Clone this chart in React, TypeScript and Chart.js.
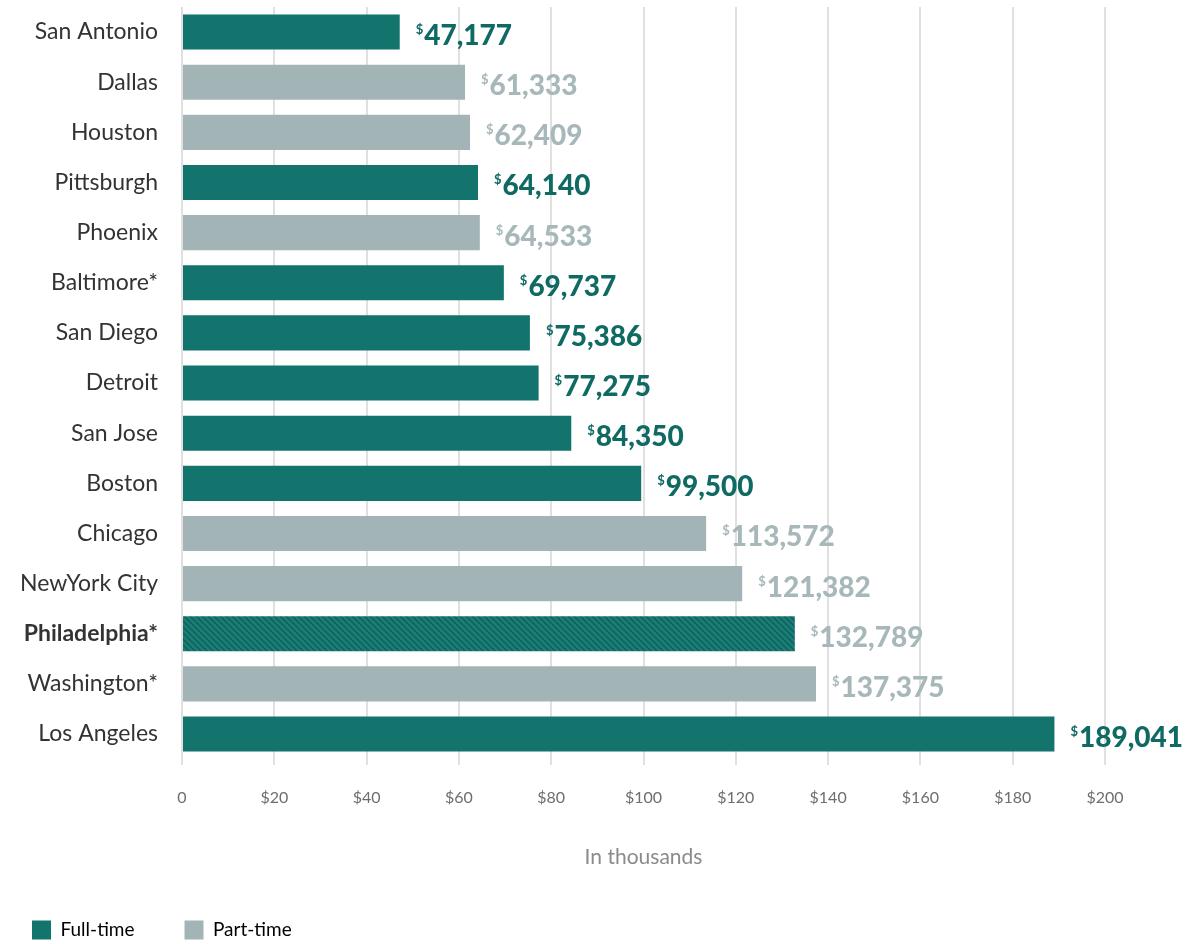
import React, { useEffect, useRef } from "react";
import { Chart, registerables } from "chart.js";

Chart.register(...registerables);

const cities = [
  "San Antonio", "Dallas", "Houston", "Pittsburgh", "Phoenix", "Baltimore*",
  "San Diego", "Detroit", "San Jose", "Boston", "Chicago", "NewYork City",
  "Philadelphia*", "Washington*", "Los Angeles",
];
const salaries = [
  47177, 61333, 62409, 64140, 64533, 69737, 75386, 77275, 84350, 99500,
  113572, 121382, 132789, 137375, 189041,
];
// "full" = Full-time, "part" = Part-time
const employment = [
  "full", "part", "part", "full", "part", "full", "full", "full", "full", "full",
  "part", "part", "full", "part", "full",
];
const labelEmployment = [
  "full", "part", "part", "full", "part", "full", "full", "full", "full", "full",
  "part", "part", "part", "part", "full",
];
const highlightCity = "Philadelphia*";
const xTicks = [0, 20, 40, 60, 80, 100, 120, 140, 160, 180, 200];
const legendItems = ["Full-time", "Part-time"];

const TEAL = "#13736d";
const GRAY = "#a3b4b6";
const TEAL_TEXT = "#0f6a64";
const GRAY_TEXT = "#a8b8ba";
const FONT = "Lato, 'Open Sans', sans-serif";

function makeHatch(ctx: CanvasRenderingContext2D) {
  const c = document.createElement("canvas");
  c.width = 6;
  c.height = 6;
  const g = c.getContext("2d")!;
  g.fillStyle = "#1a7e77";
  g.fillRect(0, 0, 6, 6);
  g.strokeStyle = "#0f605b";
  g.lineWidth = 1.5;
  g.beginPath();
  g.moveTo(-1, -1);
  g.lineTo(7, 7);
  g.moveTo(-1, 5);
  g.lineTo(1, 7);
  g.moveTo(5, -1);
  g.lineTo(7, 1);
  g.stroke();
  return ctx.createPattern(c, "repeat")!;
}

const valueLabels = {
  id: "valueLabels",
  afterDatasetsDraw(chart: any) {
    const ctx = chart.ctx;
    const meta = chart.getDatasetMeta(0);
    ctx.save();
    meta.data.forEach((bar: any, i: number) => {
      const color = labelEmployment[i] === "full" ? TEAL_TEXT : GRAY_TEXT;
      const x = bar.x + 16;
      ctx.fillStyle = color;
      ctx.textAlign = "left";
      ctx.textBaseline = "alphabetic";
      ctx.font = `bold 13px ${FONT}`;
      ctx.fillText("$", x, bar.y + 2);
      const w = ctx.measureText("$").width;
      ctx.font = `900 28px ${FONT}`;
      ctx.fillText(salaries[i].toLocaleString("en-US"), x + w + 1, bar.y + 13);
    });
    ctx.restore();
  },
};

export default function App() {
  const ref = useRef<HTMLCanvasElement>(null);
  useEffect(() => {
    const canvas = ref.current!;
    const ctx = canvas.getContext("2d")!;
    const hatch = makeHatch(ctx);
    const hi = cities.indexOf(highlightCity);
    const chart = new Chart(canvas, {
      type: "bar",
      data: {
        labels: cities,
        datasets: [
          {
            label: "Salary",
            data: salaries.map((v) => v / 1000),
            backgroundColor: (c: any) =>
              c.dataIndex === hi ? hatch : employment[c.dataIndex] === "full" ? TEAL : GRAY,
            barPercentage: 0.7,
            categoryPercentage: 1,
            borderWidth: 0,
          },
        ],
      },
      options: {
        indexAxis: "y",
        responsive: false,
        animation: false,
        devicePixelRatio: 1,
        layout: { padding: { left: -18, right: 95, top: 7, bottom: -5.5 } },
        scales: {
          y: {
            afterFit: (s: any) => {
              s.width = 200;
              s.paddingTop = 0;
              s.paddingBottom = 0;
            },
            grid: { display: false, drawTicks: false },
            border: { display: false },
            ticks: {
              padding: 24,
              color: "#333",
              font: (c: any) => ({
                family: FONT,
                size: 23,
                weight: c.index === hi ? "bold" : "normal",
              }),
            },
          },
          x: {
            min: 0,
            max: 200,
            afterBuildTicks: (s: any) => {
              s.ticks = xTicks.map((v) => ({ value: v }));
            },
            grid: { color: "#e0e0e0", lineWidth: 2, tickLength: 6 },
            border: { display: false },
            ticks: {
              padding: 23,
              color: "#6e6e6e",
              font: { family: FONT, size: 16 },
              callback: (v: any) => (v === 0 ? "0" : "$" + v),
            },
            title: {
              display: true,
              text: "In thousands",
              color: "#8a8a8a",
              font: { family: FONT, size: 21 },
              padding: { top: 14, bottom: 1 },
            },
          },
        },
        plugins: {
          tooltip: { enabled: false },
          legend: {
            position: "bottom",
            align: "start",
            labels: {
              boxWidth: 19,
              boxHeight: 19,
              padding: 50,
              color: "#8a8a8a",
              font: { family: FONT, size: 19 },
              generateLabels: () =>
                legendItems.map((t, i) => ({
                  text: t,
                  fillStyle: i === 0 ? TEAL : GRAY,
                  strokeStyle: i === 0 ? TEAL : GRAY,
                  lineWidth: 0,
                  hidden: false,
                  datasetIndex: 0,
                })),
            },
          },
        },
      },
      plugins: [valueLabels],
    });
    return () => chart.destroy();
  }, []);
  return (
    <div style={{ position: "absolute", left: 0, top: 0, width: 1200, height: 944, background: "#fff" }}>
      <canvas ref={ref} width={1200} height={944} />
    </div>
  );
}
